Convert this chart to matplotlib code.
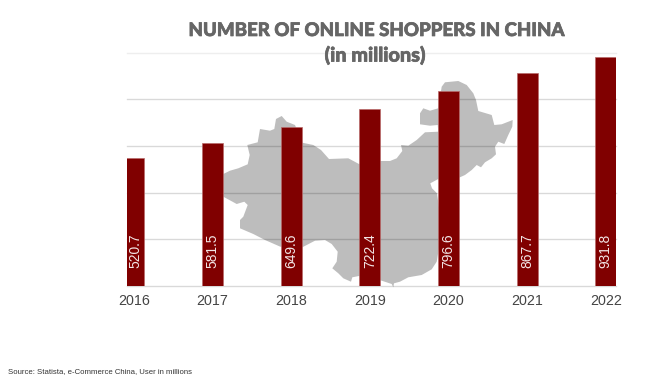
import matplotlib
matplotlib.use("Agg")
import matplotlib.pyplot as plt
import matplotlib.patheffects as pe

# Dados do grafico
anos = ["2016", "2017", "2018", "2019", "2020", "2021", "2022"]
compradores = [520.7, 581.5, 649.6, 722.4, 796.6, 867.7, 931.8]
grade = [0, 190, 380, 571, 761, 951]

# Contorno do mapa (decoracao de fundo, em pixels da imagem)
mapa_x = [212, 223.3, 230, 238.3, 247.7, 249.7, 247.3, 257.7, 260, 270, 274.3, 276, 281.7,
          286.7, 295, 302.3, 313.3, 321, 329, 348.3, 359, 380.7, 390, 396.7, 402.3, 401,
          408.3, 416.7, 425, 438.3, 437.7, 430, 420, 420, 423.3, 430, 438.3, 441.7, 445,
          458.3, 466.7, 473.3, 476, 478.3, 491.7, 494.3, 501.7, 512.7, 512.3, 508.3, 504.3,
          498.3, 495, 496, 491.7, 485, 481, 476.7, 471.7, 465, 459, 437.7, 430.3, 432, 437,
          442, 436.7, 431.7, 421.7, 408.3, 400, 394, 393.3, 391.7, 381.7, 359, 352.3, 351,
          343.3, 338.3, 332.3, 336.7, 337.7, 331.7, 325, 315, 302.3, 280.3, 265, 253.3, 240,
          240, 243.3, 247.7, 244.3, 236.7, 223.3, 212]
mapa_y = [180, 174, 170.7, 168.3, 164.3, 155, 145, 142.3, 129, 130.7, 129, 119, 116,
          121.7, 125, 142.7, 145, 150, 159, 158.3, 164, 161, 161, 158.3, 151, 145,
          145.7, 140, 132.3, 131.7, 125, 125.7, 124.3, 113.3, 108.3, 110.7, 108.3, 86.7, 82.3,
          81, 85, 93.3, 100, 111, 115, 125, 124.3, 120, 126.7, 135, 144,
          141.7, 146.7, 154.3, 158.3, 162.3, 167.3, 165, 170, 175, 177.7, 179.3, 183.3, 188.3, 193.3,
          230, 261.7, 269.3, 275, 277.3, 281.7, 283.3, 287.3, 284, 280.7, 276, 277.3, 281.7,
          278.3, 273.3, 268.3, 261.7, 251.7, 244, 240, 240.7, 247.3, 246.7, 240, 234, 228.3,
          220, 216.7, 205, 201.7, 204, 196.7, 190]

fig = plt.figure(figsize=(6.72, 3.83), dpi=100)

# Eixo de fundo so para o mapa
ax_mapa = fig.add_axes([0, 0, 1, 1], zorder=0)
ax_mapa.set_xlim(0, 672)
ax_mapa.set_ylim(383, 0)
ax_mapa.axis("off")
ax_mapa.fill(mapa_x, mapa_y, color="#bdbdbd", lw=0)

# Eixo principal com as barras
ax = fig.add_axes([126.7 / 672, (383 - 285.7) / 383, 489.6 / 672, 233 / 383], zorder=1)
ax.patch.set_visible(False)
posicoes = range(len(anos))
ax.bar(posicoes, compradores, width=0.267, color="#800000", edgecolor="#b96a6a", linewidth=0.5, zorder=3)
ax.set_xlim(-0.09, 6.133)
ax.set_ylim(0, 951)

# Linhas de grade, a de cima mais clara
for i, g in enumerate(grade):
    cor = "#eeeeee" if i == len(grade) - 1 else (0, 0, 0, 0.15)
    ax.axhline(g, color=cor, lw=1, zorder=1, clip_on=False)

for lado in ax.spines.values():
    lado.set_visible(False)
ax.set_yticks([])
ax.set_xticks(list(posicoes))
ax.set_xticklabels(anos, fontfamily="Liberation Sans", fontsize=10.3, color="#444444")
ax.tick_params(axis="x", length=0, pad=6.3)

# Valores dentro das barras (a primeira barra esta cortada, texto um pouco a direita)
for p, v in zip(posicoes, compradores):
    desloc = 1.3 if p == 0 else 0
    ax.annotate(f"{v}", (p, 0), xytext=(desloc, 13), textcoords="offset points", rotation=90,
                ha="center", va="bottom", color="#f2e6e6", fontsize=9.9,
                fontfamily="Liberation Sans", zorder=4)

# Titulos e fonte (contorno fino para engrossar a letra)
grosso = [pe.withStroke(linewidth=0.5, foreground="#666666")]
fig.text(375.5 / 672, 1 - 30.5 / 383, "NUMBER OF ONLINE SHOPPERS IN CHINA", ha="center", va="center",
         fontfamily="Lato", fontweight="black", fontsize=13.45, color="#666666", zorder=5, path_effects=grosso)
fig.text(375 / 672, 1 - 55 / 383, "(in millions)", ha="center", va="center",
         fontfamily="Lato", fontweight="black", fontsize=14.3, color="#666666", zorder=5, path_effects=grosso)
fig.text(8 / 672, 1 - 372 / 383, "Source: Statista, e-Commerce China, User in millions", ha="left", va="center",
         fontfamily="Liberation Sans", fontsize=5.6, color="#333333")

fig.savefig("out.png", dpi=100)
